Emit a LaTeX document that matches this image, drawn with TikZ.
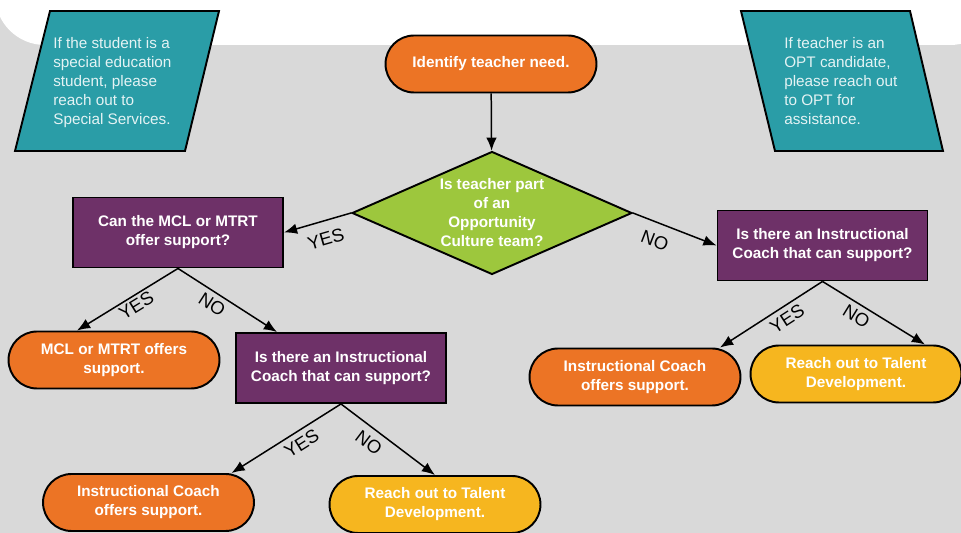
\documentclass[tikz,border=0pt]{standalone}
\usepackage{fontspec}
\setmainfont{Liberation Sans}
\usetikzlibrary{calc,arrows,arrows.meta,shapes}
\definecolor{bggray}{HTML}{D9D9D9}
\definecolor{tealbox}{HTML}{2A9DA7}
\definecolor{orangebox}{HTML}{EC7425}
\definecolor{yellowbox}{HTML}{F6B61F}
\definecolor{purplebox}{HTML}{6E3168}
\definecolor{greenbox}{HTML}{9DC73D}
\definecolor{notetext}{HTML}{E4F3F4}
\newcommand{\flowfont}{\fontsize{8.7}{10.8}\selectfont}
\tikzset{
    block/.style = {draw, rectangle, fill=purplebox, text=white,
        font=\flowfont\bfseries, line width=1.1pt,
        minimum height=1.4cm, minimum width=4.2cm, align=center},
    term/.style = {draw, rectangle, rounded corners=0.57cm, text=white,
        font=\flowfont\bfseries, line width=1.1pt,
        minimum height=1.14cm, minimum width=4.22cm, align=center},
    decision/.style = {draw, diamond, fill=greenbox, text=white,
        font=\flowfont\bfseries, line width=1.1pt, aspect=2.2, inner sep=0pt,
        minimum width=5.6cm, minimum height=2.46cm, align=center},
    para/.style = {draw, fill=tealbox, line width=1.1pt},
    note/.style = {align=left, text=notetext, font=\flowfont,
        inner sep=0pt, anchor=north west},
    arrow/.style = {draw, ->, line width=0.85pt},
    answer/.style = {sloped, font=\fontsize{10.5}{12}\selectfont, inner sep=1pt}
}

\begin{document}
\begin{tikzpicture}[x=0.02cm, y=-0.02cm, >={Latex[length=7.5pt,width=6pt]}]
    \useasboundingbox (0,0) rectangle (961,533);
    \fill[bggray] (0,0) rectangle (961,533);
    \fill[white, rounded corners=1cm] (-5,-40) rectangle (1000,45);

    \draw[para] (50,11) -- (219,11) -- (185,151) -- (15,151) -- cycle;
    \node[note] (sped) at (53,37) {If the student is a\\special education\\student, please\\reach out to\\Special Services.};
    \draw[para] (741,11) -- (910,11) -- (943,151) -- (775,151) -- cycle;
    \node[note] (opt) at (784,37) {If teacher is an\\OPT candidate,\\please reach out\\to OPT for\\assistance.};

    \node[term, fill=orangebox] (need) at (491,64) {Identify teacher need.};
    \node[decision] (decide) at (492,213) {Is teacher part\\of an\\Opportunity\\Culture team?};
    \node[block] (mcl) at (178,232.5) {Can the MCL or MTRT\\offer support?};
    \node[block] (icR) at (822.5,245.5) {Is there an Instructional\\Coach that can support?};
    \node[term, fill=orangebox] (mclyes) at (114,360) {MCL or MTRT offers\\support.};
    \node[block] (icM) at (341,368) {Is there an Instructional\\Coach that can support?};
    \node[term, fill=orangebox] (icMyes) at (148.5,502.5) {Instructional Coach\\offers support.};
    \node[term, fill=yellowbox] (icMno) at (435,504.5) {Reach out to Talent\\Development.};
    \node[term, fill=orangebox] (icRyes) at (635,377) {Instructional Coach\\offers support.};
    \node[term, fill=yellowbox] (icRno) at (856,374) {Reach out to Talent\\Development.};

    \draw[arrow] (need) -- (decide);
    \draw[arrow] (decide.west) -- node[answer, below=5pt, pos=0.45] (yes1) {YES} (mcl.east);
    \draw[arrow] (decide.east) -- node[answer, below=5pt, pos=0.34] (no1) {NO} (icR.west);
    \draw[arrow] (mcl.south) -- node[answer, below=0.5pt, pos=0.465] (yes2) {YES} ($(mclyes.north)+(-37,0)$);
    \draw[arrow] (mcl.south) -- node[answer, below=1.7pt, pos=0.41] (no2) {NO} ($(icM.north)+(-64,0)$);
    \draw[arrow] (icM.south) -- node[answer, below=1.9pt, pos=0.42] (yes3) {YES} ($(icMyes.north)+(83,0)$);
    \draw[arrow] (icM.south) -- node[answer, below=2.8pt, pos=0.385] (no3) {NO} (icMno.north);
    \draw[arrow] (icR.south) -- node[answer, below=1.8pt, pos=0.41] (yes4) {YES} ($(icRyes.north)+(85,0)$);
    \draw[arrow] (icR.south) -- node[answer, below=1.5pt, pos=0.39] (no4) {NO} ($(icRno.north)+(69,0)$);
\end{tikzpicture}
\end{document}
